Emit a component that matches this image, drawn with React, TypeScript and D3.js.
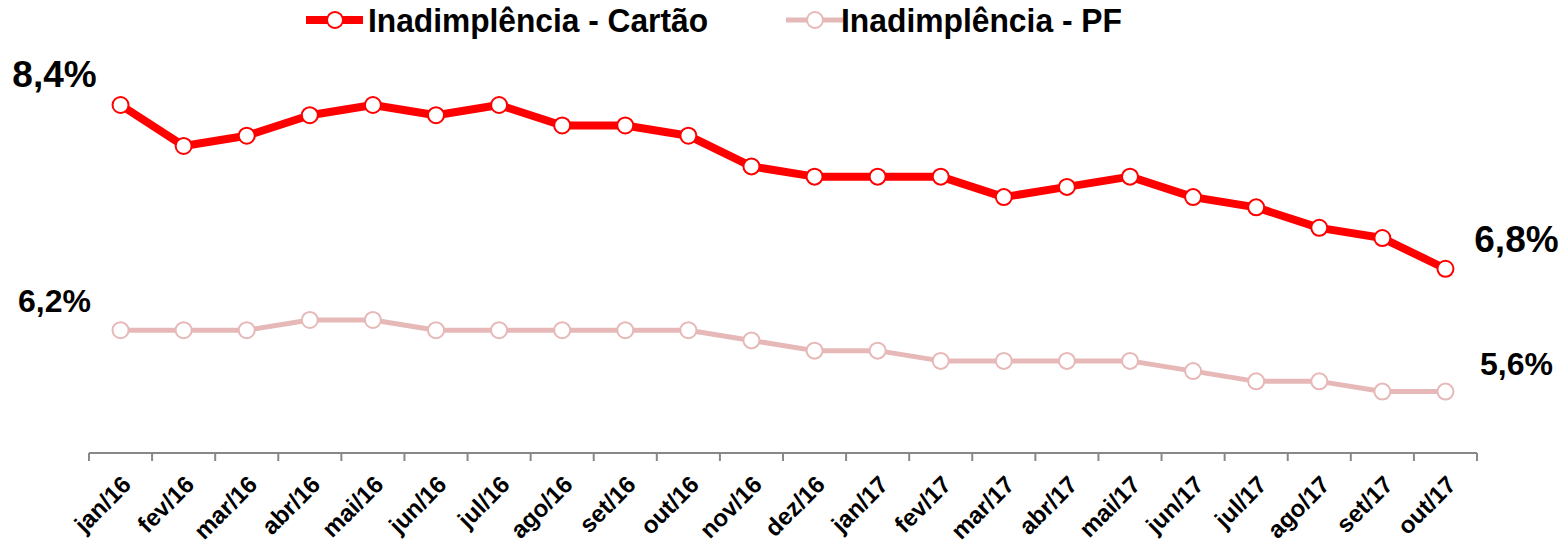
import { line, scaleBand, scaleLinear } from 'd3'

const categories = ['jan/16','fev/16','mar/16','abr/16','mai/16','jun/16','jul/16','ago/16','set/16','out/16','nov/16','dez/16','jan/17','fev/17','mar/17','abr/17','mai/17','jun/17','jul/17','ago/17','set/17','out/17']
const cartao = [8.4,8.0,8.1,8.3,8.4,8.3,8.4,8.2,8.2,8.1,7.8,7.7,7.7,7.7,7.5,7.6,7.7,7.5,7.4,7.2,7.1,6.8]
const pf = [6.2,6.2,6.2,6.3,6.3,6.2,6.2,6.2,6.2,6.2,6.1,6.0,6.0,5.9,5.9,5.9,5.9,5.8,5.7,5.7,5.6,5.6]
const seriesNames = ['Inadimplência - Cartão', 'Inadimplência - PF']

const W = 1566
const H = 547
const font = '"Liberation Sans", Arial, sans-serif'

const fmt = (v: number) => v.toFixed(1).replace('.', ',') + '%'

export default function App() {
  const x = scaleBand<string>().domain(categories).range([89, 1477]).padding(0)
  const y = scaleLinear().domain([5, 8.4]).range([453, 105])
  const cx = (c: string) => (x(c) ?? 0) + x.bandwidth() / 2

  const mk = line<number>().x((_, i) => cx(categories[i])).y(d => y(d))

  const series = [
    { name: seriesNames[0], data: cartao, color: '#ff0000', width: 8, lx: 306, tx: 368, tl: 340, fs: 37 },
    { name: seriesNames[1], data: pf, color: '#e6b9b8', width: 5, lx: 786, tx: 841, tl: 281, fs: 32 },
  ]

  const n = categories.length
  const first = categories[0]
  const last = categories[n - 1]

  return (
    <svg width={W} height={H} style={{ position: 'absolute', left: 0, top: 0, background: '#fff' }} fontFamily={font}>
      {/* axis */}
      <line x1={89} x2={1477} y1={453} y2={453} stroke='#888' strokeWidth={2} />
      {[...categories.map(c => x(c) ?? 0), 1477].map((t, i) => (
        <line key={i} x1={t} x2={t} y1={453} y2={461} stroke='#888' strokeWidth={2} />
      ))}
      {categories.map(c => (
        <text key={c} transform={`translate(${cx(c) + 12},${486}) rotate(-45)`} textAnchor='end'
          fontSize={24} fontWeight='bold' fill='#000'>{c}</text>
      ))}

      {/* series, PF drawn first */}
      {[...series].reverse().map(s => (
        <g key={s.name}>
          <path d={mk(s.data) ?? ''} fill='none' stroke={s.color} strokeWidth={s.width} strokeLinejoin='round' />
          {s.data.map((v, i) => (
            <circle key={i} cx={cx(categories[i])} cy={y(v)} r={8} fill='#fff' stroke={s.color} strokeWidth={2} />
          ))}
          <text x={cx(first) - 66} y={y(s.data[0]) - 18} textAnchor='middle' fontSize={s.fs} fontWeight='bold'>{fmt(s.data[0])}</text>
          <text x={cx(last) + 71} y={y(s.data[n - 1]) - 17} textAnchor='middle' fontSize={s.fs} fontWeight='bold'>{fmt(s.data[n - 1])}</text>
        </g>
      ))}

      {/* legend */}
      {series.map(s => (
        <g key={s.name}>
          <line x1={s.lx} x2={s.lx + 57} y1={20} y2={20} stroke={s.color} strokeWidth={s.width} />
          <circle cx={s.lx + 29} cy={20} r={8} fill='#fff' stroke={s.color} strokeWidth={2} />
          <text x={s.tx} y={32} fontSize={33} fontWeight='bold' textLength={s.tl} lengthAdjust='spacingAndGlyphs'>{s.name}</text>
        </g>
      ))}
    </svg>
  )
}
